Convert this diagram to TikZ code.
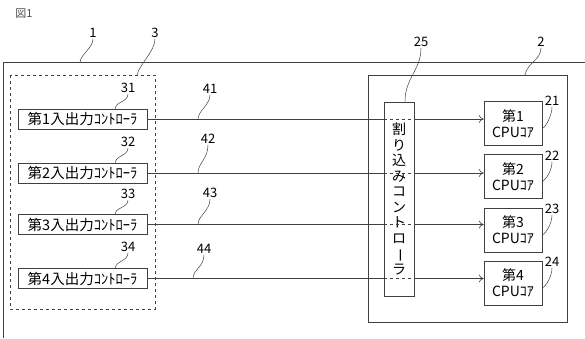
\documentclass[tikz,border=0pt]{standalone}
\usepackage{fontspec}
\setmainfont{Noto Sans CJK JP}
\usetikzlibrary{arrows.meta}
\tikzset{
  ln/.style={draw=black!75, line width=0.6pt},
  ctrlbox/.style={ln, minimum width=129pt, minimum height=20pt, inner sep=1pt, font=\fontsize{14.5}{16}\selectfont},
  corebox/.style={ln, minimum width=58pt, minimum height=44pt, inner sep=1pt, align=center, font=\fontsize{14}{16}\selectfont},
  num/.style={inner sep=1pt, font=\fontsize{13}{14}\selectfont},
  lead/.style={ln, line width=0.5pt},
  sig/.style={ln, -{To[length=5pt,width=8pt]}}
}
\begin{document}
\begin{tikzpicture}[x=1pt,y=-1pt]
\useasboundingbox (0,0) rectangle (585,338);
\node[font=\fontsize{11}{12}\selectfont, text=black!70] (fig) at (24,14) {図1};
% frames
\draw[ln] (3,338) -- (3,62) -- (585,62);
\draw[ln, dashed] (10,75) rectangle (155,309);
\draw[ln] (368,75) rectangle (567,322);
% input/output controllers
\node[ctrlbox] (c1) at (82.5,119) {第1入出力ｺﾝﾄﾛｰﾗ};
\node[ctrlbox] (c2) at (82.5,173) {第2入出力ｺﾝﾄﾛｰﾗ};
\node[ctrlbox] (c3) at (82.5,224.5) {第3入出力ｺﾝﾄﾛｰﾗ};
\node[ctrlbox] (c4) at (82.5,278.5) {第4入出力ｺﾝﾄﾛｰﾗ};
% interrupt controller
\node[ln, minimum width=30pt, minimum height=194pt, inner sep=0pt] (ic) at (399,199) {};
\node[align=center, font=\fontsize{14}{15.5}\selectfont] (ictext) at (ic) {割\\り\\込\\み\\コ\\ン\\ト\\ロ\\\rotatebox[origin=c]{-90}{ー}\\ラ};
% CPU cores
\node[corebox] (p1) at (513,123.5) {第1\\CPUｺｱ};
\node[corebox] (p2) at (513,176.5) {第2\\CPUｺｱ};
\node[corebox] (p3) at (513,230) {第3\\CPUｺｱ};
\node[corebox] (p4) at (513,283) {第4\\CPUｺｱ};
% signal lines
\draw[ln] (c1.east) -- (ic.west |- c1.east);
\draw[ln, dashed] (ic.west |- c1.east) -- (ic.east |- c1.east);
\draw[sig] (ic.east |- c1.east) -- (p1.west |- c1.east);
\draw[ln] (c2.east) -- (ic.west |- c2.east);
\draw[ln, dashed] (ic.west |- c2.east) -- (ic.east |- c2.east);
\draw[sig] (ic.east |- c2.east) -- (p2.west |- c2.east);
\draw[ln] (c3.east) -- (ic.west |- c3.east);
\draw[ln, dashed] (ic.west |- c3.east) -- (ic.east |- c3.east);
\draw[sig] (ic.east |- c3.east) -- (p3.west |- c3.east);
\draw[ln] (c4.east) -- (ic.west |- c4.east);
\draw[ln, dashed] (ic.west |- c4.east) -- (ic.east |- c4.east);
\draw[sig] (ic.east |- c4.east) -- (p4.west |- c4.east);
% reference numerals
\coordinate (t1) at (80,62);
\coordinate (t3) at (137,75);
\coordinate (t2) at (525,75);
\node[num] (n1) at (93,33) {1};
\node[num] (n3) at (155,33) {3};
\node[num] (n25) at (421,42) {25};
\node[num] (n2) at (541,42) {2};
\draw[lead] (n1.south) .. controls +(0,9) and +(1,-8) .. (t1);
\draw[lead] (n3.south) .. controls +(0,12) and +(2,-10) .. (t3);
\draw[lead] (n25.south) .. controls +(0,22) and +(0,-24) .. ([xshift=6pt]ic.north);
\draw[lead] (n2.south) .. controls +(0,12) and +(2,-12) .. (t2);
\node[num] (n31) at (128,88) {31};
\node[num] (n32) at (128,142) {32};
\node[num] (n33) at (128,194) {33};
\node[num] (n34) at (128,247) {34};
\draw[lead] (n31.south) .. controls +(0,8) and +(0,-7) .. ([xshift=-32pt]c1.north east);
\draw[lead] (n32.south) .. controls +(0,8) and +(0,-7) .. ([xshift=-32pt]c2.north east);
\draw[lead] (n33.south) .. controls +(0,8) and +(0,-7) .. ([xshift=-32pt]c3.north east);
\draw[lead] (n34.south) .. controls +(0,8) and +(0,-7) .. ([xshift=-32pt]c4.north east);
\node[num] (n41) at (210,89) {41};
\node[num] (n42) at (208,139) {42};
\node[num] (n43) at (210,193) {43};
\node[num] (n44) at (204,249) {44};
\draw[lead] (n41.south) .. controls +(0,10) and +(0,-8) .. (c1.east -| 198,0);
\draw[lead] (n42.south) .. controls +(0,14) and +(0,-10) .. (c2.east -| 198,0);
\draw[lead] (n43.south) .. controls +(0,12) and +(0,-9) .. (c3.east -| 198,0);
\draw[lead] (n44.south) .. controls +(0,12) and +(0,-9) .. (c4.east -| 193,0);
\node[num] (n21) at (552,101) {21};
\node[num] (n22) at (552,156) {22};
\node[num] (n23) at (552,209) {23};
\node[num] (n24) at (552,262) {24};
\draw[lead] (n21.south) .. controls +(0,8) and +(4,-2) .. ([yshift=-5pt]p1.east);
\draw[lead] (n22.south) .. controls +(0,8) and +(4,-2) .. ([yshift=-5pt]p2.east);
\draw[lead] (n23.south) .. controls +(0,8) and +(4,-2) .. ([yshift=-5pt]p3.east);
\draw[lead] (n24.south) .. controls +(0,8) and +(4,-2) .. ([yshift=-5pt]p4.east);
\end{tikzpicture}
\end{document}
